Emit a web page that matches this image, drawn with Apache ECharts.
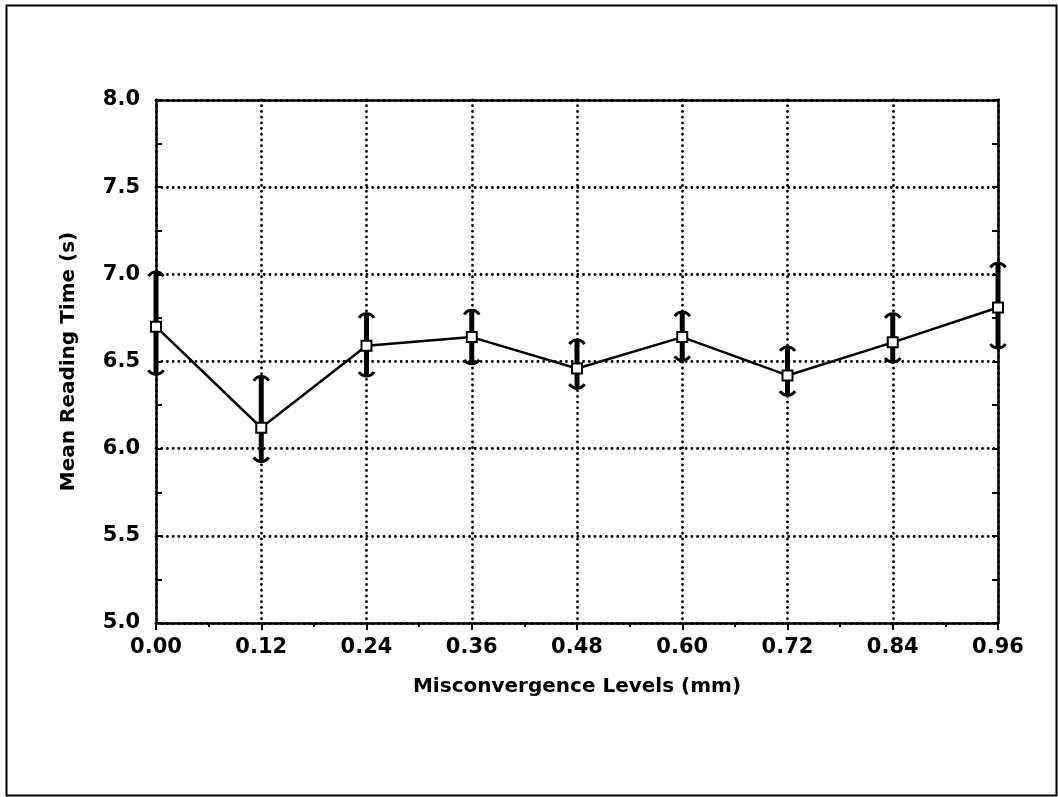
<!DOCTYPE html>
<html>
<head>
<meta charset="utf-8">
<script src="https://cdn.jsdelivr.net/npm/echarts@6/dist/echarts.min.js"></script>
<style>
html,body{margin:0;padding:0;background:#fff;}
#chart{width:1058px;height:797px;}
</style>
</head>
<body>
<div id="chart"></div>
<script>
// Data
const levels = [0.00, 0.12, 0.24, 0.36, 0.48, 0.60, 0.72, 0.84, 0.96];
const meanTime = [6.70, 6.12, 6.59, 6.64, 6.46, 6.64, 6.42, 6.61, 6.81];
const upperErr = [7.01, 6.41, 6.77, 6.79, 6.62, 6.78, 6.58, 6.77, 7.06];
const lowerErr = [6.43, 5.93, 6.42, 6.49, 6.35, 6.51, 6.31, 6.50, 6.58];
const xTitle = 'Misconvergence Levels (mm)';
const yTitle = 'Mean Reading Time (s)';

const FONT = '"DejaVu Sans", sans-serif';

const lineData = levels.map((x, i) => [x, meanTime[i]]);
const errData = levels.map((x, i) => [x, upperErr[i], lowerErr[i]]);

const chart = echarts.init(document.getElementById('chart'));

function renderErr(params, api) {
  const x = api.value(0);
  const hi = api.coord([x, api.value(1)]);
  const lo = api.coord([x, api.value(2)]);
  const cx = hi[0];
  const w = 7.5;
  const st = {stroke: '#000', lineWidth: 3, fill: null};
  return {
    type: 'group',
    children: [
      {type: 'rect', shape: {x: cx - 2.5, y: hi[1], width: 5, height: lo[1] - hi[1]}, style: {fill: '#000'}},
      {type: 'bezierCurve', shape: {x1: cx - w, y1: hi[1] + 3.5, cpx1: cx - 4, cpy1: hi[1] - 2, cpx2: cx + 4, cpy2: hi[1] - 2, x2: cx + w, y2: hi[1] + 3.5}, style: st},
      {type: 'bezierCurve', shape: {x1: cx - w, y1: lo[1] - 3.5, cpx1: cx - 4, cpy1: lo[1] + 2, cpx2: cx + 4, cpy2: lo[1] + 2, x2: cx + w, y2: lo[1] - 3.5}, style: st}
    ]
  };
}

const dotted = {show: true, lineStyle: {color: '#000', type: [0.1, 5.6], width: 2.8, cap: 'round'}};

const option = {
  backgroundColor: '#fff',
  animation: false,
  graphic: [{
    type: 'rect', left: 4, top: 3,
    shape: {width: 1050, height: 790},
    style: {fill: null, stroke: '#000', lineWidth: 2}
  }],
  grid: {left: 156, right: 60, top: 100, bottom: 174, show: false},
  xAxis: [{
    type: 'value', min: 0, max: 0.96, interval: 0.12, position: 'bottom',
    axisLine: {show: true, lineStyle: {color: '#000', width: 2.5}},
    axisTick: {show: true, inside: false, length: 7, lineStyle: {color: '#000', width: 2}},
    minorTick: {show: true, splitNumber: 2, length: 4, lineStyle: {color: '#000', width: 2}},
    splitLine: dotted,
    axisLabel: {color: '#000', fontFamily: FONT, fontWeight: 'bold', fontSize: 21, margin: 14,
      formatter: v => v.toFixed(2)},
    name: xTitle, nameLocation: 'middle', nameGap: 54,
    nameTextStyle: {color: '#000', fontFamily: FONT, fontWeight: 'bold', fontSize: 20}
  }, {
    type: 'value', min: 0, max: 0.96, interval: 0.12, position: 'top',
    axisLine: {show: true, onZero: false, lineStyle: {color: '#000', width: 2.5}},
    axisTick: {show: false}, axisLabel: {show: false}, splitLine: {show: false}
  }],
  yAxis: [{
    type: 'value', min: 5, max: 8, interval: 0.5, position: 'left',
    axisLine: {show: true, lineStyle: {color: '#000', width: 2.5}},
    axisTick: {show: true, inside: true, length: 6, lineStyle: {color: '#000', width: 2}},
    minorTick: {show: true, splitNumber: 2, length: 6, lineStyle: {color: '#000', width: 2}},
    splitLine: dotted,
    axisLabel: {color: '#000', fontFamily: FONT, fontWeight: 'bold', fontSize: 21, margin: 16,
      formatter: v => v.toFixed(1)},
    name: yTitle, nameLocation: 'middle', nameGap: 77,
    nameTextStyle: {color: '#000', fontFamily: FONT, fontWeight: 'bold', fontSize: 20}
  }, {
    type: 'value', min: 5, max: 8, interval: 0.5, position: 'right',
    axisLine: {show: true, onZero: false, lineStyle: {color: '#000', width: 2.5}},
    axisTick: {show: true, inside: true, length: 6, lineStyle: {color: '#000', width: 2}},
    minorTick: {show: true, splitNumber: 2, length: 6, lineStyle: {color: '#000', width: 2}},
    axisLabel: {show: false}, splitLine: {show: false}
  }],
  series: [{
    type: 'line', xAxisIndex: 0, yAxisIndex: 0, data: lineData,
    showSymbol: false, clip: false, z: 2, silent: true,
    lineStyle: {color: '#000', width: 2.5}
  }, {
    type: 'custom', xAxisIndex: 0, yAxisIndex: 0, silent: true,
    renderItem: renderErr, data: errData, clip: false, z: 4
  }, {
    type: 'scatter', xAxisIndex: 0, yAxisIndex: 0, data: lineData, silent: true,
    symbol: 'rect', symbolSize: 10, clip: false, z: 6,
    itemStyle: {color: '#fff', borderColor: '#000', borderWidth: 2, opacity: 1}
  }]
};
chart.setOption(option);
</script>
</body>
</html>
